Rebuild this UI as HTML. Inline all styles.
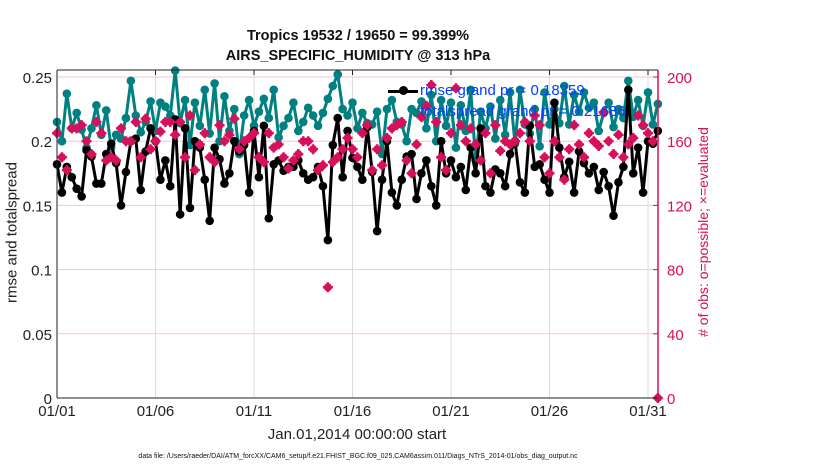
<!DOCTYPE html>
<html><head><meta charset="utf-8"><style>
body{margin:0;background:#fff;}
svg{display:block;font-family:"Liberation Sans",Arial,sans-serif;}
</style></head><body>
<svg id="c" width="830" height="470"></svg>
<script>
const days=[1,6,11,16,21,26,31];
const xTickLabels=["01/01","01/06","01/11","01/16","01/21","01/26","01/31"];
const yTicks=[0,0.05,0.1,0.15,0.2,0.25];
const yTickLabels=["0","0.05","0.1","0.15","0.2","0.25"];
const y2Ticks=[0,40,80,120,160,200];
const spread=[.215,.200,.237,.210,.222,.209,.195,.210,.228,.205,.224,.195,.205,.202,.218,.247,.220,.207,.215,.231,.208,.230,.227,.220,.255,.214,.232,.197,.230,.212,.240,.206,.245,.200,.235,.208,.225,.190,.220,.232,.212,.223,.233,.218,.240,.203,.212,.218,.230,.208,.215,.226,.220,.212,.222,.233,.243,.252,.225,.220,.230,.210,.222,.214,.213,.223,.190,.225,.232,.215,.213,.200,.225,.222,.231,.210,.236,.200,.232,.212,.230,.195,.228,.208,.240,.185,.223,.210,.227,.202,.232,.205,.238,.198,.240,.213,.206,.225,.196,.238,.213,.225,.214,.243,.213,.236,.223,.238,.226,.230,.208,.222,.230,.211,.225,.218,.247,.219,.232,.212,.238,.213,.229];
const rmse=[.182,.160,.180,.172,.163,.157,.193,.188,.167,.167,.190,.198,.183,.150,.176,.200,.202,.162,.192,.210,.200,.170,.185,.165,.217,.143,.210,.148,.200,.195,.170,.138,.195,.186,.167,.175,.200,.192,.197,.160,.208,.172,.212,.140,.182,.185,.177,.180,.180,.185,.175,.170,.172,.180,.165,.123,.197,.218,.172,.208,.187,.180,.170,.211,.176,.130,.170,.200,.160,.150,.170,.188,.190,.155,.175,.185,.165,.150,.200,.175,.185,.172,.180,.162,.195,.175,.210,.165,.160,.178,.175,.165,.190,.200,.168,.160,.212,.180,.182,.170,.160,.230,.195,.172,.184,.160,.192,.183,.175,.180,.162,.176,.165,.142,.168,.180,.240,.175,.195,.160,.200,.198,.208];
const obs=[165,150,142,168,168,170,160,152,172,165,148,150,148,168,160,160,172,150,174,155,160,166,172,172,164,172,150,176,142,158,165,150,147,170,160,164,174,155,160,162,165,150,147,165,156,158,150,143,148,152,160,160,155,142,145,69,147,150,155,162,155,150,165,170,142,155,145,162,168,170,172,148,140,158,175,182,195,172,150,142,165,193,170,160,168,158,148,165,140,170,154,160,158,160,165,172,160,176,170,150,140,160,150,136,155,170,158,150,165,160,157,178,160,152,164,150,158,162,176,170,165,160,0];
const NS="http://www.w3.org/2000/svg";
const svg=document.getElementById('c');
const L=57,R=658,T=70,B=398;
const X=d=>L+(d-1)*19.7;
const Y=v=>B-v/0.05*64.2;
const Y2=v=>B-v/40*64.2;
const dayOf=i=>1+i*0.25;
function mk(t,a,p){const e=document.createElementNS(NS,t);for(const k in a)e.setAttribute(k,a[k]);(p||svg).appendChild(e);return e;}
days.forEach((d,i)=>{const g=mk('line',{x1:X(d),x2:X(d),y1:T,y2:B,stroke:'#dcdcdc','stroke-width':1});


const t=mk('text',{x:X(d),y:416,'font-size':15,'text-anchor':'middle',fill:'#222'});t.textContent=xTickLabels[i];


mk('line',{x1:X(d),x2:X(d),y1:T,y2:T+5,stroke:'#222'});});
yTicks.forEach((v,i)=>{const g=mk('line',{x1:L,x2:R,y1:Y(v),y2:Y(v),stroke:'#f4c6d6','stroke-width':1});


const t=mk('text',{x:L-5,y:Y(v)+6,'font-size':15,'text-anchor':'end',fill:'#222'});t.textContent=yTickLabels[i];

});
y2Ticks.forEach(v=>{mk('line',{x1:R-5,x2:R,y1:Y2(v),y2:Y2(v),stroke:'#d6105a'});
const t=mk('text',{x:R+9,y:Y2(v)+6,'font-size':15,fill:'#d6105a'});t.textContent=String(v);

});
function line(arr,yf,color,name){const pts=arr.map((v,i)=>X(dayOf(i))+','+yf(v)).join(' ');
const p=mk('polyline',{points:pts,fill:'none',stroke:color,'stroke-width':3,'stroke-linejoin':'round'});


arr.forEach((v,i)=>{const c=mk('circle',{cx:X(dayOf(i)),cy:yf(v),r:4.3,fill:color});

});}
line(spread,Y,'#008080','totalspread');
line(rmse,Y,'#000','rmse');
obs.forEach((v,i)=>{const x=X(dayOf(i)),y=Y2(v);
const g=mk('g',{});


mk('path',{d:`M${x-5},${y}L${x+5},${y}M${x},${y-5}L${x},${y+5}`,stroke:'#d6105a','stroke-width':2.4},g);
mk('circle',{cx:x,cy:y,r:4,fill:'#d6105a'},g);});
mk('line',{x1:L,x2:R,y1:T,y2:T,stroke:'#222'});
mk('line',{x1:L,x2:R,y1:B,y2:B,stroke:'#222'});
mk('line',{x1:L,x2:L,y1:T,y2:B,stroke:'#222'});
mk('line',{x1:R,x2:R,y1:T,y2:B,stroke:'#d6105a','stroke-width':1.5});
</script>
<div style="position:absolute;left:0;top:0;width:830px;height:470px;pointer-events:none;font-family:'Liberation Sans',Arial,sans-serif;">
<div style="position:absolute;left:0;width:716px;top:26px;text-align:center;font-weight:bold;font-size:14.5px;line-height:20px;color:#111;">Tropics 19532 / 19650 = 99.399%<br>AIRS_SPECIFIC_HUMIDITY @ 313 hPa</div>
<div style="position:absolute;left:388px;top:82px;font-size:15px;color:#0040ff;white-space:nowrap;"><span style="display:inline-block;width:30px;height:3px;background:#000;vertical-align:middle;margin-right:2px;position:relative;"><span style="position:absolute;left:11px;top:-3.5px;width:9px;height:9px;border-radius:50%;background:#000;"></span></span>rmse grand pr = 0.18359</div>
<div style="position:absolute;left:420px;top:103px;font-size:15px;color:#0040ff;white-space:nowrap;">totalspread grand pr = 0.21686</div>
<div style="position:absolute;left:-63px;top:224px;width:150px;text-align:center;transform:rotate(-90deg);font-size:15px;color:#222;white-space:nowrap;">rmse and totalspread</div>
<div style="position:absolute;left:578px;top:224px;width:250px;text-align:center;transform:rotate(-90deg);font-size:14px;color:#d6105a;white-space:nowrap;"># of obs: o=possible; ×=evaluated</div>
<div style="position:absolute;left:257px;top:426px;width:200px;text-align:center;font-size:15px;color:#222;white-space:nowrap;">Jan.01,2014 00:00:00 start</div>
<div style="position:absolute;left:0;width:716px;top:453px;text-align:center;font-size:7px;color:#111;white-space:nowrap;">data file: /Users/raeder/DAI/ATM_forcXX/CAM6_setup/f.e21.FHIST_BGC.f09_025.CAM6assim.011/Diags_NTrS_2014-01/obs_diag_output.nc</div>
</div>
</body></html>
